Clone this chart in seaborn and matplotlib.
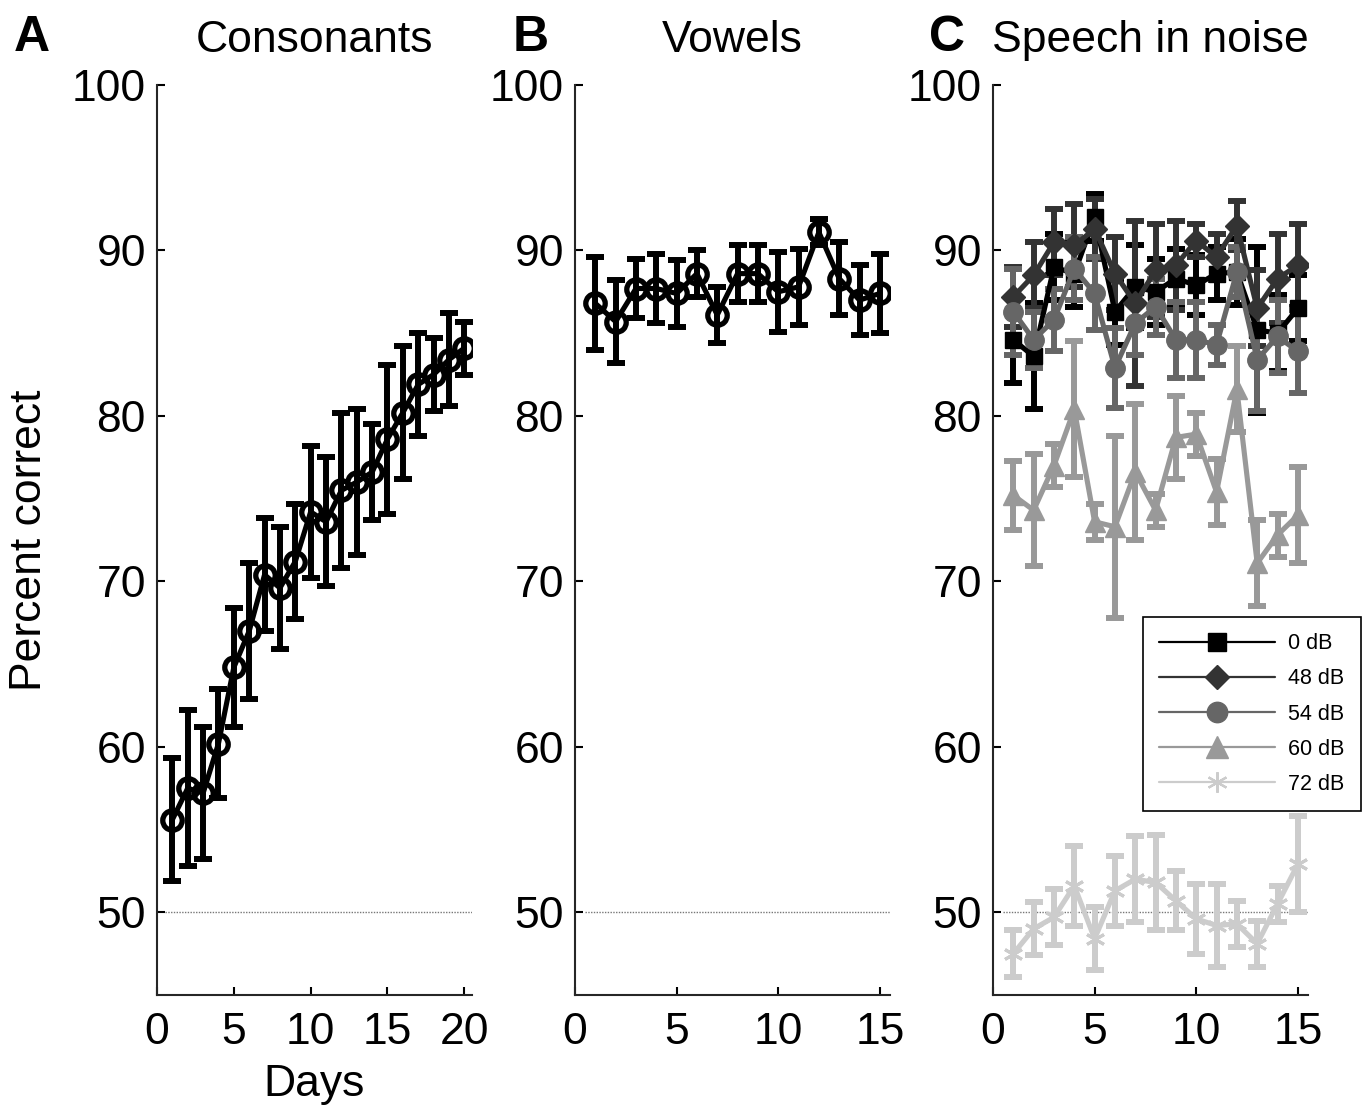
import numpy as np
import pandas as pd
import matplotlib
matplotlib.use("Agg")
import matplotlib.pyplot as plt
from matplotlib.lines import Line2D
import seaborn as sns

# ---- Panel A: consonant identification over 20 training days ----
days_a = list(range(1, 21))
cons_mean = [55.6, 57.5, 57.2, 60.2, 64.8, 67.0, 70.4, 69.6, 71.2, 74.2,
             73.6, 75.5, 76.0, 76.6, 78.6, 80.2, 81.9, 82.5, 83.4, 84.1]
cons_err = [3.7, 4.7, 4.0, 3.3, 3.6, 4.1, 3.4, 3.7, 3.5, 4.0,
            3.9, 4.7, 4.4, 2.9, 4.5, 4.0, 3.1, 2.2, 2.8, 1.6]

# ---- Panel B: vowel identification over 15 days ----
days_bc = list(range(1, 16))
vow_mean = [86.8, 85.7, 87.7, 87.7, 87.4, 88.6, 86.1, 88.6, 88.6, 87.5,
            87.8, 91.1, 88.3, 87.0, 87.4]
vow_err = [2.8, 2.5, 1.8, 2.1, 2.0, 1.4, 1.7, 1.7, 1.7, 2.4,
           2.3, 0.8, 2.2, 2.1, 2.4]

# ---- Panel C: speech in noise, one series per noise level ----
noise_labels = ["0 dB", "48 dB", "54 dB", "60 dB", "72 dB"]
noise_0_mean = [84.6, 83.6, 89.0, 88.6, 92.0, 86.3, 87.8, 87.5, 88.3, 87.9,
                88.6, 88.7, 85.2, 85.0, 86.5]
noise_0_err = [2.6, 3.2, 2.0, 2.0, 1.4, 2.0, 2.5, 2.0, 1.8, 1.8,
               1.6, 2.0, 5.0, 2.3, 2.0]
noise_48_mean = [87.2, 88.5, 90.5, 90.3, 91.3, 88.6, 86.8, 88.8, 89.1, 90.6,
                 89.6, 91.5, 86.5, 88.3, 89.1]
noise_48_err = [1.8, 2.0, 2.0, 2.5, 1.8, 2.2, 5.0, 2.8, 2.7, 1.0,
                1.4, 1.5, 2.3, 2.7, 2.5]
noise_54_mean = [86.3, 84.6, 85.8, 88.9, 87.4, 82.9, 85.6, 86.6, 84.6, 84.6,
                 84.3, 88.7, 83.4, 84.8, 83.9]
noise_54_err = [2.6, 1.7, 1.9, 1.9, 2.2, 2.4, 1.9, 1.7, 2.3, 2.3,
                1.2, 1.5, 3.1, 2.2, 2.5]
noise_60_mean = [75.2, 74.3, 77.0, 80.4, 73.6, 73.3, 76.6, 74.3, 78.7, 78.9,
                 75.4, 81.6, 71.1, 72.8, 74.0]
noise_60_err = [2.1, 3.4, 1.3, 4.1, 1.1, 5.5, 4.1, 1.0, 2.5, 1.3,
                2.0, 2.6, 2.6, 1.3, 2.9]
noise_72_mean = [47.5, 49.0, 49.7, 51.6, 48.4, 51.3, 52.0, 51.8, 50.7, 49.6,
                 49.2, 49.3, 48.1, 50.5, 52.9]
noise_72_err = [1.4, 1.6, 1.7, 2.4, 1.9, 2.1, 2.6, 2.9, 1.8, 2.1,
                2.5, 1.4, 1.4, 1.1, 2.9]

noise_means = [noise_0_mean, noise_48_mean, noise_54_mean, noise_60_mean, noise_72_mean]
noise_errs = [noise_0_err, noise_48_err, noise_54_err, noise_60_err, noise_72_err]
noise_colors = ["#000000", "#333333", "#666666", "#999999", "#cccccc"]
noise_markers = ["s", "D", "o", "^", (6, 2, 0)]
noise_msizes = [12, 12, 14, 15, 14]

y_ticks = [50, 60, 70, 80, 90, 100]

sns.set_style("ticks")
plt.rcParams["font.family"] = ["Liberation Sans", "DejaVu Sans"]
plt.rcParams["text.color"] = "black"
plt.rcParams["axes.labelcolor"] = "black"

fig = plt.figure(figsize=(13.65, 11.08), dpi=100)
W, H = 1365, 1108


def add_axes(left_px, right_px):
    return fig.add_axes([left_px / W, (H - 995) / H,
                         (right_px - left_px) / W, (995 - 85) / H])


ax_a = add_axes(157, 472)
ax_b = add_axes(575, 890)
ax_c = add_axes(993, 1308)

LW = 3.7
ERR_LW = 4.3
CAP = 6.5


def draw_series(ax, x, mean, err, color, marker, ms, open_marker=False, mew=2.9):
    df = pd.DataFrame({"day": x, "score": mean})
    ax.errorbar(x, mean, yerr=err, fmt="none", ecolor=color, elinewidth=ERR_LW,
                capsize=CAP, capthick=ERR_LW, zorder=2)
    kw = dict(marker=marker, markersize=ms, markeredgecolor=color,
              markeredgewidth=mew,
              markerfacecolor="none" if open_marker else color)
    sns.lineplot(data=df, x="day", y="score", color=color, linewidth=LW,
                 ax=ax, zorder=3, **kw)


draw_series(ax_a, days_a, cons_mean, cons_err, "black", "o", 14,
            open_marker=True, mew=3.8)
draw_series(ax_b, days_bc, vow_mean, vow_err, "black", "o", 14,
            open_marker=True, mew=3.8)
for m, e, c, mk, ms in zip(noise_means, noise_errs, noise_colors,
                           noise_markers, noise_msizes):
    mew = 2.2 if isinstance(mk, tuple) else 1.0
    draw_series(ax_c, days_bc, m, e, c, mk, ms, mew=mew)

for ax, xmax, xt in [(ax_a, 20.5, [0, 5, 10, 15, 20]),
                     (ax_b, 15.5, [0, 5, 10, 15]),
                     (ax_c, 15.5, [0, 5, 10, 15])]:
    ax.hlines(50, 0.5, xmax, colors="#777777", linestyles=(0, (1, 1)),
              linewidth=1.0, zorder=1)
    ax.set_xlim(0, xmax)
    ax.set_ylim(45, 100)
    ax.set_xticks(xt)
    ax.set_yticks(y_ticks)
    ax.set_xlabel("")
    ax.set_ylabel("")
    sns.despine(ax=ax)
    for s in ("left", "bottom"):
        ax.spines[s].set_linewidth(1.5)
    ax.tick_params(direction="in", length=6, width=1.5, labelsize=32,
                   colors="black")
    ax.tick_params(axis="x", pad=12)
    ax.tick_params(axis="y", pad=8)

ax_a.set_ylabel("Percent correct", fontsize=32, labelpad=16)
ax_a.set_xlabel("Days", fontsize=32, labelpad=8)

ax_a.set_title("Consonants", fontsize=32, pad=24)
ax_b.set_title("Vowels", fontsize=32, pad=24)
ax_c.set_title("Speech in noise", fontsize=32, pad=24)

for letter, xpx in [("A", 14), ("B", 513), ("C", 929)]:
    fig.text(xpx / W, 1 - 38 / H, letter, fontsize=36, fontweight="bold",
             ha="left", va="center")

handles = [Line2D([0], [0], color=c, lw=1.6, marker=mk, markersize=ms * 1.05,
                  markerfacecolor=c, markeredgecolor=c,
                  markeredgewidth=1.6 if isinstance(mk, tuple) else 1.0)
           for c, mk, ms in zip(noise_colors, noise_markers, noise_msizes)]
leg = ax_c.legend(handles, noise_labels, loc="upper left",
                  bbox_to_anchor=((1143 - 993) / 315, (995 - 617) / 910),
                  fontsize=15.5, handlelength=5.4, frameon=True, fancybox=False,
                  edgecolor="black", framealpha=1, borderpad=0.75,
                  labelspacing=0.66, handletextpad=0.6, borderaxespad=0)
leg.get_frame().set_linewidth(1.2)
leg.set_zorder(10)

fig.savefig("out.png", dpi=100)
